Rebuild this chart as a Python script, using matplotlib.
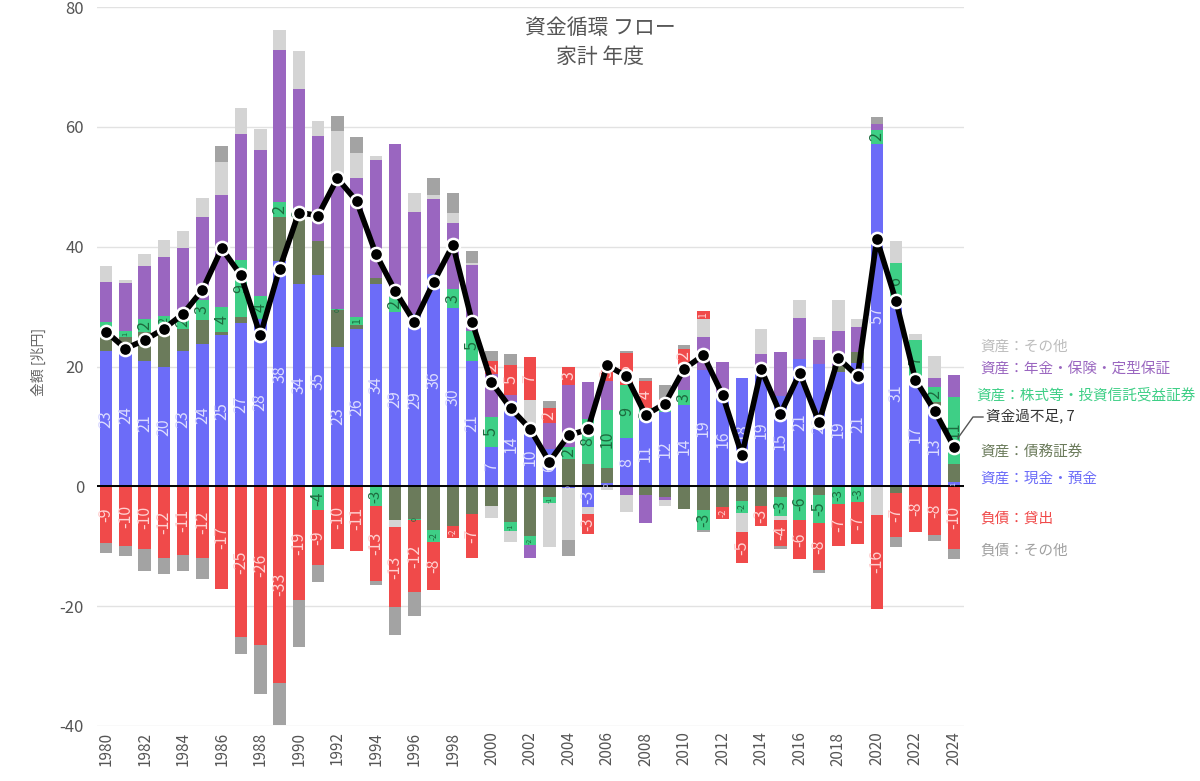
import numpy as np
import matplotlib
matplotlib.use('Agg')
import matplotlib.pyplot as plt
from matplotlib.lines import Line2D

plt.rcParams['font.family'] = ['Noto Sans CJK JP', 'DejaVu Sans']

years = list(range(1980, 2025))

# 資産：現金・預金
cash = [22.6, 23.8, 21.0, 19.9, 22.6, 23.8, 25.2, 27.3, 28.0, 37.6,
        33.8, 35.2, 23.3, 26.3, 33.7, 29.1, 28.8, 35.5, 29.7, 21.0,
        6.6, 14.2, 9.6, 6.3, -0.2, -3.4, 0.5, 8.0, 11.0, 12.4,
        13.5, 19.4, 15.8, 18.1, 18.8, 15.0, 21.3, 20.5, 19.1, 20.6,
        57.2, 31.1, 17.4, 13.4, 0.7]
# 資産：債務証券
debt = [3.5, 1.2, 4.8, 7.0, 3.7, 4.0, 0.5, 1.0, 0.0, 7.4,
        11.0, 5.8, 6.1, 0.6, 1.0, -5.6, -5.4, -7.3, -6.7, -4.6,
        -3.2, -6.0, -8.3, -1.8, 4.6, 3.8, 2.5, 0.0, -1.5, -1.8,
        -3.7, -3.9, -3.4, -2.5, -3.3, -1.8, 0.0, -1.5, 1.0, 1.8,
        0.0, -1.1, 0.0, 0.7, 3.1]
# 資産：株式等・投資信託受益証券
equity = [1.3, 1.0, 2.2, 1.5, 2.0, 3.3, 4.2, 9.4, 3.7, 2.4,
          1.6, -4.0, 0.2, 1.3, -3.2, 2.5, -0.2, -2.0, 3.3, 5.0,
          5.0, -1.4, -1.5, -1.0, 2.0, 7.5, 9.8, 8.9, 2.0, 1.2,
          2.6, -3.4, 0.0, -2.0, 0.0, -3.1, -5.7, -4.6, -2.9, -2.6,
          2.2, 6.1, 7.1, 2.4, 11.1]
# 資産：年金・保険・定型保証
pension = [6.7, 7.9, 8.7, 9.8, 11.5, 13.8, 18.8, 21.1, 24.4, 25.5,
           19.9, 17.4, 22.0, 23.3, 19.7, 25.6, 17.0, 12.4, 10.9, 10.9,
           7.2, 1.0, -2.1, 4.2, 10.3, 6.1, 4.7, -1.5, -4.7, -0.5,
           4.4, 5.6, 5.0, 0.0, 3.3, 7.4, 6.8, 3.9, 5.8, 4.2,
           1.1, 0.0, 0.0, 1.5, 3.7]
# 資産：その他
asset_other = [2.7, 0.6, 2.0, 2.9, 2.8, 3.2, 5.4, 4.4, 3.5, 3.2,
               6.4, 2.5, 7.7, 4.2, 0.7, -1.2, 3.2, 0.8, 1.7, 0.3,
               -2.1, -1.9, 4.8, -7.3, -8.7, -1.3, -0.6, -2.8, 0.0, -1.0,
               0.0, 3.0, 0.0, -3.1, 4.1, -0.7, 3.0, 0.5, 5.2, 1.3,
               -4.8, 3.7, 1.0, 3.7, 0.0]
# 負債：貸出
loans = [-9.4, -9.9, -10.4, -11.9, -11.4, -12.0, -17.1, -25.2, -26.5, -32.8,
         -18.9, -9.2, -10.4, -10.8, -12.6, -13.4, -12.1, -8.0, -1.9, -7.3,
         2.2, 5.1, 7.2, 2.5, 3.1, -3.3, 2.8, 5.3, 4.5, 1.0,
         2.5, 1.3, -2.1, -5.2, -3.4, -4.4, -6.4, -7.9, -7.0, -7.0,
         -15.6, -7.3, -7.6, -8.2, -10.4]
# 負債：その他
liab_other = [-1.7, -1.8, -3.7, -2.8, -2.7, -3.4, 2.7, -2.8, -8.1, -7.1,
              -7.9, -2.7, 2.5, 2.6, -0.6, -4.6, -3.9, 2.8, 3.3, 2.1,
              1.6, 1.8, 0.0, 1.2, -2.7, 0.0, 0.0, 0.4, 0.5, 2.3,
              0.6, -0.4, 0.0, 0.0, 0.0, -0.4, 0.0, -0.5, 0.0, 0.0,
              1.2, -1.8, 0.0, -1.0, -1.7]
# 資金過不足
net = [25.8, 23.0, 24.4, 26.3, 28.8, 32.8, 39.7, 35.2, 25.2, 36.3,
       45.7, 45.2, 51.4, 47.6, 38.8, 32.6, 27.4, 34.1, 40.3, 27.4,
       17.4, 13.0, 9.6, 4.1, 8.5, 9.5, 20.2, 18.4, 11.9, 13.8,
       19.6, 21.9, 15.2, 5.2, 19.5, 12.1, 18.9, 10.7, 21.4, 18.4,
       41.3, 30.9, 17.8, 12.6, 6.6]

series_names = ['資産：現金・預金', '資産：債務証券', '資産：株式等・投資信託受益証券',
                '資産：年金・保険・定型保証', '資産：その他', '負債：貸出', '負債：その他']
series_vals = [cash, debt, equity, pension, asset_other, loans, liab_other]
series_colors = ['#6c6cf8', '#6b7b5b', '#3ecf86', '#9a66c0', '#d4d4d4', '#f04a4a', '#a3a3a3']
legend_colors = ['#6c6cf8', '#6b7b5b', '#3ecf86', '#9a66c0', '#bdbdbd', '#f04a4a', '#a0a0a0']
label_series = {0: '#dcdcff', 2: '#1d6b3e', 5: '#ffd2d2'}

W, H = 1200, 781
fig = plt.figure(figsize=(W / 100, H / 100), dpi=100)
ax_left, ax_right, ax_top, ax_bot = 96.5, 963.5, 7, 726
ax = fig.add_axes([ax_left / W, (H - ax_bot) / H, (ax_right - ax_left) / W, (ax_bot - ax_top) / H])

x = np.array(years, dtype=float)
ymin, ymax = -40, 80
px_per_unit = (ax_bot - ax_top) / (ymax - ymin)
bw = 0.65

pos_base = np.zeros(len(years))
neg_base = np.zeros(len(years))
for k, (vals, col) in enumerate(zip(series_vals, series_colors)):
    v = np.array(vals, dtype=float)
    bottoms = np.where(v >= 0, pos_base, neg_base)
    ax.bar(x, v, width=bw, bottom=bottoms, color=col, linewidth=0, zorder=2)
    if k in label_series:
        for i in range(len(years)):
            if v[i] == 0:
                continue
            r = int(np.round(v[i]))
            s = str(r) if r != 0 else '0'
            seg_px = abs(v[i]) * px_per_unit
            fs_fit = (seg_px - 1.5) / (0.6 * len(s) * 100 / 72)
            fs = max(min(11.5, fs_fit), 5)
            ax.text(x[i], bottoms[i] + v[i] / 2, s, rotation=90, ha='center', va='center',
                    fontsize=fs, color=label_series[k], zorder=4)
    pos_base = pos_base + np.where(v >= 0, v, 0)
    neg_base = neg_base + np.where(v < 0, v, 0)

ax.axhline(0, color='black', lw=1.4, zorder=3)
ax.plot(x, net, color='black', lw=4, zorder=5, solid_joinstyle='round')
ax.plot(x, net, 'o', color='black', markersize=9.5, markeredgecolor='white',
        markeredgewidth=1.8, zorder=6)

ax.set_xlim(1979.5, 2024.5)
ax.set_ylim(ymin, ymax)
ax.set_yticks(range(-40, 81, 20))
ax.set_yticklabels([str(t) for t in range(-40, 81, 20)], fontsize=12, color='#555555')
ax.set_xticks(years[::2])
ax.set_xticklabels([str(y) for y in years[::2]], rotation=90, fontsize=11, color='#555555')
ax.tick_params(axis='both', length=0)
ax.tick_params(axis='y', pad=9)
ax.tick_params(axis='x', pad=4)
ax.yaxis.grid(True, color='#e2e2e2', lw=1)
ax.set_axisbelow(True)
for sp in ax.spines.values():
    sp.set_visible(False)

fig.text(38 / W, 1 - 362 / H, '金額 [兆円]', rotation=90, ha='center', va='center',
         fontsize=10, color='#666666')
fig.text(600 / W, 1 - 28 / H, '資金循環 フロー', ha='center', va='center', fontsize=15, color='#555555')
fig.text(600 / W, 1 - 57 / H, '家計 年度', ha='center', va='center', fontsize=15, color='#555555')

# right-side labels
label_pos = {4: (980, 347), 3: (980, 369), 2: (976, 395), 1: (980, 453),
             0: (980, 479), 5: (980, 519), 6: (980, 551)}
for k, (px, py) in label_pos.items():
    fig.text(px / W, 1 - py / H, series_names[k], ha='left', va='center',
             fontsize=10.5, color=legend_colors[k])
fig.text(986 / W, 1 - 416 / H, f'資金過不足, {int(np.round(net[-1]))}', ha='left', va='center',
         fontsize=10.5, color='#333333')
fig.add_artist(Line2D([958 / W, 973 / W, 983 / W], [1 - 438 / H, 1 - 417 / H, 1 - 417 / H],
                      color='#555555', lw=1, transform=fig.transFigure))

fig.savefig('out.png', dpi=100)
